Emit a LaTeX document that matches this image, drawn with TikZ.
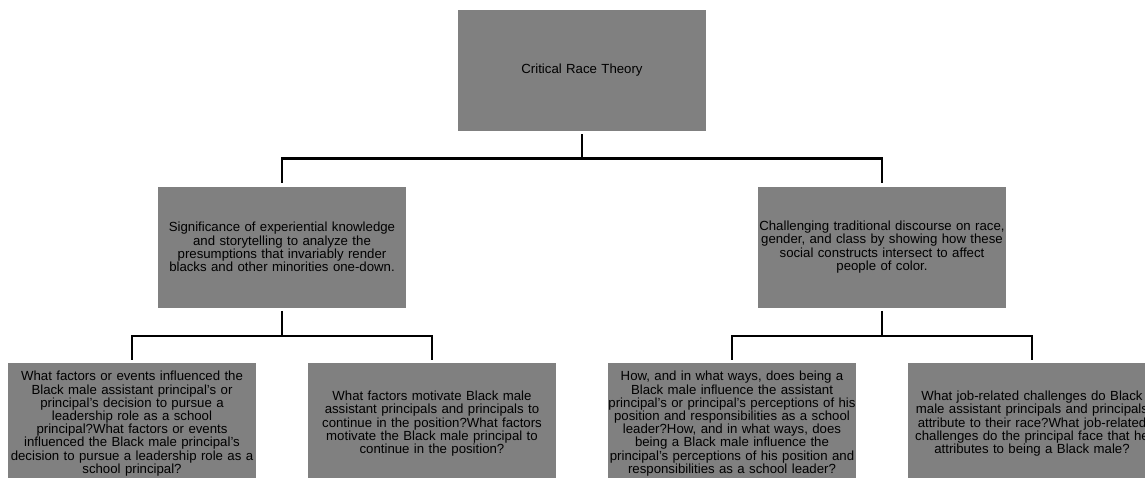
\documentclass[tikz,border=0pt]{standalone}
\usepackage{fontspec}
\setmainfont{Liberation Sans}
\usetikzlibrary{positioning}

\begin{document}
\begin{tikzpicture}[
    node distance=1.375cm,
    box/.style={rectangle, fill=black!50, inner sep=0pt, minimum height=3.025cm, minimum width=6.15cm, text width=6.2cm, align=center, font=\fontsize{9.4}{9.4}\selectfont},
    conn/.style={-, line width=1.9pt, shorten <=0.075cm, shorten >=0.075cm}
]
\useasboundingbox (0,0) rectangle (28.625,11.95);

% Theory (top)
\node[box] (crt) at (14.55,10.1875) {Critical Race Theory};

% Tenets (middle)
\node[box, below=of crt, xshift=-7.5cm] (sig) {Significance of experiential knowledge\\and storytelling to analyze the\\presumptions that invariably render\\blacks and other minorities one-down.};
\node[box, below=of crt, xshift=7.5cm] (chal) {Challenging traditional discourse on race,\\gender, and class by showing how these\\social constructs intersect to affect\\people of color.};

% Research questions (bottom)
\node[box, below=of sig, xshift=-3.75cm] (q1) {What factors or events influenced the\\Black male assistant principal's or\\principal's decision to pursue a\\leadership role as a school\\principal?What factors or events\\influenced the Black male principal's\\decision to pursue a leadership role as a\\school principal?};
\node[box, below=of sig, xshift=3.75cm] (q2) {What factors motivate Black male\\assistant principals and principals to\\continue in the position?What factors\\motivate the Black male principal to\\continue in the position?};
\node[box, below=of chal, xshift=-3.75cm] (q3) {How, and in what ways, does being a\\Black male influence the assistant\\principal's or principal's perceptions of his\\position and responsibilities as a school\\leader?How, and in what ways, does\\being a Black male influence the\\principal's perceptions of his position and\\responsibilities as a school leader?};
\node[box, below=of chal, xshift=3.75cm] (q4) {What job-related challenges do Black\\male assistant principals and principals\\attribute to their race?What job-related\\challenges do the principal face that he\\attributes to being a Black male?};

% Connectors
\draw[conn, shorten >=0pt] (crt.south) -- ++(0,-0.675) coordinate (crt_split);
\draw[conn, shorten <=0pt] (crt_split) -| (sig.north);
\draw[conn, shorten <=0pt] (crt_split) -| (chal.north);

\draw[conn, shorten >=0pt] (sig.south) -- ++(0,-0.7) coordinate (sig_split);
\draw[conn, shorten <=0pt] (sig_split) -| (q1.north);
\draw[conn, shorten <=0pt] (sig_split) -| (q2.north);

\draw[conn, shorten >=0pt] (chal.south) -- ++(0,-0.7) coordinate (chal_split);
\draw[conn, shorten <=0pt] (chal_split) -| (q3.north);
\draw[conn, shorten <=0pt] (chal_split) -| (q4.north);

\end{tikzpicture}
\end{document}
